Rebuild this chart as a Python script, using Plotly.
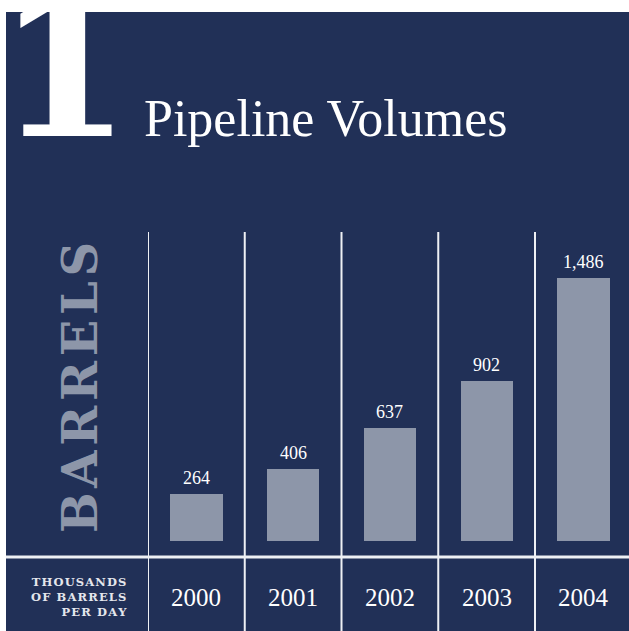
import plotly.graph_objects as go

# Pipeline volumes, thousands of barrels per day
years = ["2000", "2001", "2002", "2003", "2004"]
volumes = [264, 406, 637, 902, 1486]

W, H = 629, 631
NAVY = "#213057"
BAR = "#8d96a9"
LINE = "#eef0f4"
HAIR = "\u200a"


def px_x(p):
    return p / W


def px_y(p):
    return 1 - p / H


def spaced(word, gap=HAIR):
    return gap.join(word)


x_idx = list(range(len(years)))

fig = go.Figure()
fig.add_trace(go.Bar(
    x=x_idx, y=volumes, width=0.54,
    marker=dict(color=BAR, line=dict(width=0)),
    hoverinfo="skip",
))

shapes = [
    # navy panel
    dict(type="rect", xref="paper", yref="paper", layer="below",
         x0=px_x(6), x1=1, y0=0, y1=px_y(12),
         fillcolor=NAVY, line=dict(width=0)),
    # rule between the chart and the year row
    dict(type="line", xref="paper", yref="paper", layer="above",
         x0=px_x(6), x1=1, y0=px_y(557), y1=px_y(557),
         line=dict(color=LINE, width=3)),
]
# column dividers, one to the left of every year
for i in x_idx:
    shapes.append(dict(type="line", xref="x", yref="paper", layer="above",
                       x0=i - 0.5, x1=i - 0.5, y0=0, y1=px_y(232),
                       line=dict(color=LINE, width=2)))

small = "<br>".join(spaced(s) for s in ["THOUSANDS", "OF BARRELS", "PER DAY"])

annotations = [
    dict(text="1", xref="paper", yref="paper", x=px_x(64), y=px_y(68),
         xanchor="center", yanchor="middle", showarrow=False,
         font=dict(family="DejaVu Serif", size=192, color="white", weight="bold")),
    dict(text="Pipeline Volumes", xref="paper", yref="paper",
         x=px_x(142), y=px_y(118), xanchor="left", yanchor="middle",
         showarrow=False,
         font=dict(family="Liberation Serif", size=52, color="white")),
    dict(text=spaced("BARRELS"), xref="paper", yref="paper",
         x=px_x(80), y=px_y(388), xanchor="center", yanchor="middle",
         textangle=-90, showarrow=False,
         font=dict(family="DejaVu Serif", size=48, color=BAR, weight="bold")),
    dict(text=small, xref="paper", yref="paper",
         x=px_x(129), y=px_y(597), xanchor="right", yanchor="middle",
         align="right", showarrow=False,
         font=dict(family="DejaVu Serif", size=11.5, color="#e4e6ec", weight="bold")),
]
# year labels under each column
for i, yr in zip(x_idx, years):
    annotations.append(dict(text=yr, xref="x", yref="paper", x=i, y=px_y(597),
                            xanchor="center", yanchor="middle", showarrow=False,
                            font=dict(family="Liberation Serif", size=25, color="white")))
# value labels above each bar
for i, v in zip(x_idx, volumes):
    annotations.append(dict(text=f"{v:,}", xref="x", yref="y", x=i, y=v,
                            xanchor="center", yanchor="bottom", yshift=4,
                            showarrow=False,
                            font=dict(family="Liberation Serif", size=18, color="white")))

span = 96.75
x_left = -0.5
x_right = x_left + (W - 148) / span

fig.update_layout(
    width=W, height=H,
    margin=dict(l=0, r=0, t=0, b=0),
    paper_bgcolor="white",
    plot_bgcolor="rgba(0,0,0,0)",
    showlegend=False,
    shapes=shapes,
    annotations=annotations,
    xaxis=dict(domain=[px_x(148), 1], range=[x_left, x_right],
               showgrid=False, zeroline=False, showticklabels=False,
               ticks="", showline=False, fixedrange=True),
    yaxis=dict(domain=[px_y(541), px_y(232)], range=[0, 1746],
               showgrid=False, zeroline=False, showticklabels=False,
               ticks="", showline=False, fixedrange=True),
    bargap=0,
)

fig.write_html("out.html", config=dict(displayModeBar=False))
